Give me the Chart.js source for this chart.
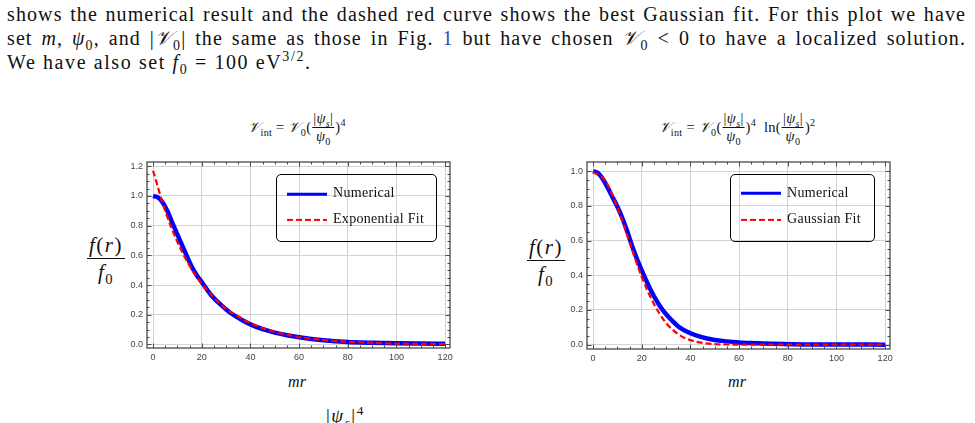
<!DOCTYPE html>
<html>
<head>
<meta charset="utf-8">
<script src="https://cdn.jsdelivr.net/npm/chart.js@4.4.0/dist/chart.umd.min.js"></script>
<style>
    body { margin: 0; width: 975px; height: 423px; overflow: hidden; background: #fff; position: relative; font-family: 'Liberation Serif', serif; color: #111; }
    .line { position: absolute; left: 7px; width: 959px; font-size: 20px; letter-spacing: 1.1px; line-height: 24px; white-space: nowrap; }
    .just { text-align: justify; text-align-last: justify; white-space: normal; }
    .link { color: #3344bb; }
    canvas { position: absolute; }
    .title { position: absolute; font-size: 14.5px; letter-spacing: 0.3px; white-space: nowrap; transform: translateX(-50%); display: flex; align-items: center; }
    .frac { display: inline-flex; flex-direction: column; align-items: center; margin: 0 1px; }
    .frac > span:first-child { border-bottom: 0.8px solid #111; padding: 0 1px; }
    .ylab { position: absolute; font-size: 21px; letter-spacing: 1.5px; font-style: italic; }
    .ylab .frac > span:first-child { border-bottom: 1px solid #111; padding: 0 2px 0; }
    .ylab .frac > span:last-child { padding-top: 1px; }
    .xlab { position: absolute; font-size: 16px; font-style: italic; transform: translateX(-50%); }
    .legend { position: absolute; border: 1.3px solid #000; border-radius: 5px; box-sizing: border-box; }
    .legend .item { position: absolute; left: 56px; font-size: 14px; letter-spacing: 0.3px; transform: translateY(-50%); white-space: nowrap; }
    .legend .solid { position: absolute; left: 10px; width: 40px; height: 2.5px; background: #0000ff; transform: translateY(-50%); }
    .legend .dash { position: absolute; left: 10px; width: 40px; height: 2.2px; background: repeating-linear-gradient(90deg, #ff0000 0 6px, transparent 6px 9px); transform: translateY(-50%); }
    sub, sup { font-size: 70%; line-height: 0; }
</style>
</head>
<body>
<div class="line just" style="top:2px">shows the numerical result and the dashed red curve shows the best Gaussian fit. For this plot we have</div>
<div class="line just" style="top:26px">set <i>m</i>, <i>ψ</i><sub>0</sub>, and |<i>𝒱</i><sub>0</sub>| the same as those in Fig. <span class="link">1</span> but have chosen <i>𝒱</i><sub>0</sub> &lt; 0 to have a localized solution.</div>
<div class="line" style="top:50px;letter-spacing:1.6px">We have also set <i>f</i><sub>0</sub> = 100 eV<sup>3/2</sup>.</div>

<div class="title" style="left:297px;top:110px"><span><i>𝒱</i><sub>int</sub> = <i>𝒱</i><sub>0</sub>(</span><span class="frac"><span>|<i>ψ<sub>s</sub></i>|</span><span><i>ψ</i><sub>0</sub></span></span><span>)<sup>4</sup></span></div>
<div class="title" style="left:737px;top:110px"><span><i>𝒱</i><sub>int</sub> = <i>𝒱</i><sub>0</sub>(</span><span class="frac"><span>|<i>ψ<sub>s</sub></i>|</span><span><i>ψ</i><sub>0</sub></span></span><span>)<sup>4</sup>&nbsp;&nbsp;ln(</span><span class="frac"><span>|<i>ψ<sub>s</sub></i>|</span><span><i>ψ</i><sub>0</sub></span></span><span>)<sup>2</sup></span></div>

<div class="ylab" style="left:86px;top:233px"><span class="frac"><span>f</span><span>f</span></span></div>
<div class="ylab" style="left:526px;top:235px"><span class="frac"><span>f</span><span>f</span></span></div>

<canvas id="leftChart" width="360" height="220" style="left:100px;top:150px"></canvas>
<canvas id="rightChart" width="360" height="220" style="left:540px;top:150px"></canvas>

<div class="legend" style="left:276px;top:174px;width:161px;height:68px">
    <div class="solid" style="top:19px"></div><div class="item" style="top:18px">Numerical</div>
    <div class="dash" style="top:45px"></div><div class="item" style="top:44px">Exponential Fit</div>
</div>
<div class="legend" style="left:730px;top:174px;width:145px;height:68px">
    <div class="solid" style="top:18px"></div><div class="item" style="top:18px">Numerical</div>
    <div class="dash" style="top:45px"></div><div class="item" style="top:44px">Gaussian Fit</div>
</div>

<div class="xlab" style="left:297px;top:373px">mr</div>
<div class="xlab" style="left:737px;top:373px">mr</div>
<div style="position:absolute;left:326px;top:405px;font-size:19px;letter-spacing:1.5px">|<i>ψ<sub>s</sub></i>|<sup>4</sup></div>

<script>
// tick labels
const xTicks = [0, 20, 40, 60, 80, 100, 120];
const yTicksLeft = [0, 0.2, 0.4, 0.6, 0.8, 1.0, 1.2];
const yTicksRight = [0, 0.2, 0.4, 0.6, 0.8, 1.0];

// left panel: V0 (|psi|/psi0)^4
const leftNumX = [0, 2, 4, 6, 8, 10, 12, 14, 16, 18, 20, 24, 28, 32, 36, 40, 45, 50, 55, 60, 70, 80, 90, 100, 110, 120];
const leftNumY = [1.0, 0.99, 0.955, 0.895, 0.815, 0.74, 0.665, 0.59, 0.52, 0.465, 0.42, 0.33, 0.265, 0.21, 0.17, 0.135, 0.103, 0.08, 0.062, 0.048, 0.028, 0.016, 0.011, 0.008, 0.006, 0.005];
const leftFitX = [0, 5, 10, 15, 20, 25, 30, 35, 40, 45, 50, 60, 70, 80, 90, 100, 110, 120];
const leftFitY = [1.17, 0.898, 0.69, 0.53, 0.41, 0.315, 0.24, 0.188, 0.144, 0.11, 0.085, 0.05, 0.03, 0.018, 0.011, 0.006, 0.004, 0.002];

// right panel: V0 (|psi|/psi0)^4 ln(|psi|/psi0)^2
const rightNumX = [0, 2, 4, 6, 8, 10, 12, 14, 16, 18, 20, 22, 24, 26, 28, 30, 32, 35, 40, 45, 50, 55, 60, 65, 70, 80, 90, 100, 120];
const rightNumY = [1.0, 0.99, 0.955, 0.905, 0.85, 0.795, 0.73, 0.655, 0.57, 0.495, 0.428, 0.365, 0.306, 0.255, 0.211, 0.175, 0.145, 0.105, 0.066, 0.042, 0.027, 0.019, 0.013, 0.009, 0.006, 0.003, 0.001, 0.001, 0.0];
const rightFitX = [0, 5, 10, 15, 20, 25, 30, 35, 40, 45, 50, 55, 60, 80, 100, 120];
const rightFitY = [0.995, 0.945, 0.79, 0.59, 0.39, 0.235, 0.125, 0.06, 0.026, 0.01, 0.003, 0.001, 0.0, 0.0, 0.0, 0.0];

const pts = (xs, ys) => xs.map((x, i) => ({ x: x, y: ys[i] }));

// frame with inward major/minor ticks on all four sides
const frameTicks = {
    id: 'frameTicks',
    afterDraw(chart) {
        const { ctx, chartArea: a, scales: { x, y } } = chart;
        ctx.save();
        ctx.strokeStyle = '#4a4a4a';
        ctx.lineWidth = 1;
        const xs = chart.options.scales.x.ticksList;
        const ys = chart.options.scales.y.ticksList;
        const tick = (px, len, vertical) => {
            ctx.beginPath();
            if (vertical) {
                ctx.moveTo(px, a.bottom); ctx.lineTo(px, a.bottom - len);
                ctx.moveTo(px, a.top); ctx.lineTo(px, a.top + len);
            } else {
                ctx.moveTo(a.left, px); ctx.lineTo(a.left + len, px);
                ctx.moveTo(a.right, px); ctx.lineTo(a.right - len, px);
            }
            ctx.stroke();
        };
        for (let i = 0; i < xs.length; i++) {
            tick(Math.round(x.getPixelForValue(xs[i])) + 0.5, 4.5, true);
            if (i < xs.length - 1) {
                const step = (xs[i + 1] - xs[i]) / 4;
                for (let k = 1; k < 4; k++) tick(Math.round(x.getPixelForValue(xs[i] + k * step)) + 0.5, 2.5, true);
            }
        }
        for (let i = 0; i < ys.length; i++) {
            tick(Math.round(y.getPixelForValue(ys[i])) + 0.5, 4.5, false);
            if (i < ys.length - 1) {
                const step = (ys[i + 1] - ys[i]) / 4;
                for (let k = 1; k < 4; k++) tick(Math.round(y.getPixelForValue(ys[i] + k * step)) + 0.5, 2.5, false);
            }
        }
        ctx.lineWidth = 1.3;
        ctx.strokeRect(a.left, a.top, a.right - a.left, a.bottom - a.top);
        ctx.restore();
    }
};

function makeChart(id, numX, numY, fitX, fitY, yTicks, yMin, yMax, padTop, xHeight) {
    return new Chart(document.getElementById(id), {
        type: 'line',
        data: {
            datasets: [
                {
                    label: 'Fit',
                    data: pts(fitX, fitY),
                    borderColor: '#ff0000',
                    borderWidth: 2.2,
                    borderDash: [6, 3],
                    pointRadius: 0,
                    cubicInterpolationMode: 'monotone',
                    fill: false
                },
                {
                    label: 'Numerical',
                    data: pts(numX, numY),
                    borderColor: '#0000ff',
                    borderWidth: 4.5,
                    pointRadius: 0,
                    cubicInterpolationMode: 'monotone',
                    fill: false
                }
            ]
        },
        options: {
            responsive: false,
            animation: false,
            layout: { padding: { top: padTop, right: 10, left: 0, bottom: 0 } },
            plugins: { legend: { display: false }, tooltip: { enabled: false } },
            scales: {
                x: {
                    type: 'linear',
                    min: -2.5,
                    max: 122,
                    ticksList: xTicks,
                    afterBuildTicks: s => { s.ticks = xTicks.map(v => ({ value: v })); },
                    afterFit: s => { s.height = xHeight; },
                    grid: { color: '#d2d2d2', drawTicks: false },
                    border: { display: false },
                    ticks: { color: '#444', font: { family: 'Liberation Sans', size: 9 }, padding: 4, maxRotation: 0, callback: v => v }
                },
                y: {
                    type: 'linear',
                    min: yMin,
                    max: yMax,
                    ticksList: yTicks,
                    afterBuildTicks: s => { s.ticks = yTicks.map(v => ({ value: v })); },
                    afterFit: s => { s.width = 47; },
                    grid: { color: '#d2d2d2', drawTicks: false },
                    border: { display: false },
                    ticks: { color: '#444', font: { family: 'Liberation Sans', size: 9 }, padding: 4, callback: v => v.toFixed(1) }
                }
            }
        },
        plugins: [frameTicks]
    });
}

makeChart('leftChart', leftNumX, leftNumY, leftFitX, leftFitY, yTicksLeft, -0.024, 1.229, 12, 22);
makeChart('rightChart', rightNumX, rightNumY, rightFitX, rightFitY, yTicksRight, -0.025, 1.053, 12, 21);

// fill in the y-axis label fractions f(r) / f0
document.querySelectorAll('.ylab .frac').forEach(el => {
    el.children[0].innerHTML = 'f<span style="font-style:normal">(</span>r<span style="font-style:normal">)</span>';
    el.children[1].innerHTML = 'f<sub style="font-style:normal">0</sub>';
});
</script>
</body>
</html>
